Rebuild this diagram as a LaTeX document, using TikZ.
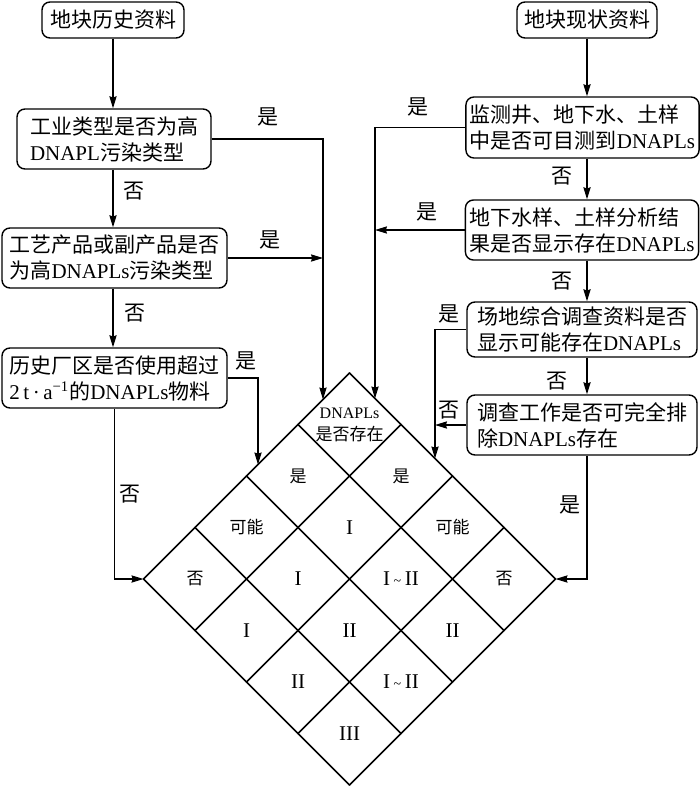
\documentclass[tikz,border=0pt]{standalone}
\usepackage{fontspec}
\setmainfont{Liberation Serif}
\newfontfamily\cjk{Noto Sans CJK SC}
\newfontfamily\latf{Liberation Serif}
\newcommand{\La}[1]{{\latf #1}}
\usetikzlibrary{arrows.meta,calc}
\tikzset{
  box/.style={draw, rounded corners=4pt, line width=0.7pt, align=left, inner sep=2pt,
    font=\cjk\fontsize{10.5pt}{13pt}\selectfont},
  lab/.style={font=\cjk\fontsize{10.5pt}{13pt}\selectfont, inner sep=0pt},
  conn/.style={line width=0.7pt, -{Stealth[length=6pt,width=3.6pt,inset=0.6pt]}},
  grid/.style={line width=0.75pt, line cap=round},
  cell/.style={font=\cjk\fontsize{8.5pt}{11pt}\selectfont, inner sep=0pt, align=center},
  rom/.style={font=\latf\fontsize{10.5pt}{12pt}\selectfont, inner sep=0pt}
}
\begin{document}
\begin{tikzpicture}[x=0.5pt,y=-0.5pt]
\useasboundingbox (0,0) rectangle (700,787);
% left column
\node[box, minimum width=71pt, minimum height=18pt] (b1) at (113,20) {地块历史资料};
\node[box, minimum width=97pt, minimum height=30pt] (b2) at (114,139) {工业类型是否为高\\\La{DNAPL}污染类型};
\node[box, minimum width=112.5pt, minimum height=30pt] (b3) at (114.5,258) {工艺产品或副产品是否\\为高\La{DNAPLs}污染类型};
\node[box, minimum width=112.5pt, minimum height=30pt] (b4) at (114.5,378) {历史厂区是否使用超过\\\La{2\,t\,·\,a\textsuperscript{−1}}的\La{DNAPLs}物料};
% right column
\node[box, minimum width=70pt, minimum height=18pt] (b5) at (587,20) {地块现状资料};
\node[box, minimum width=115.5pt, minimum height=30.5pt] (b6) at (582.5,127.5) {监测井、地下水、土样\\中是否可目测到\La{DNAPLs}};
\node[box, minimum width=115pt, minimum height=30pt] (b7) at (582,230) {地下水样、土样分析结\\果是否显示存在\La{DNAPLs}};
\node[box, minimum width=115pt, minimum height=27.5pt] (b8) at (582,329.5) {场地综合调查资料是否\\显示可能存在\La{DNAPLs}};
\node[box, minimum width=115pt, minimum height=30pt] (b9) at (582,425) {调查工作是否可完全排\\除\La{DNAPLs}存在};
% diamond anchor points
\coordinate (T) at (349.5,373);
\coordinate (L) at (143.5,579);
\coordinate (R) at (555.5,579);
\coordinate (e1) at (323,399.5);
\coordinate (e2) at (258,464.5);
\coordinate (e3) at (375,398.5);
\coordinate (e4) at (435,458.5);
% grid
\begin{scope}[shift={(T)}, x={(25.75pt,-25.75pt)}, y={(-25.75pt,-25.75pt)}]
\foreach \i in {0,...,4} {
  \draw[grid] (\i,0) -- (\i,4);
  \draw[grid] (0,\i) -- (4,\i);
}
\node[cell] (c00) at (0.5,0.5) {{\latf\fontsize{8pt}{11pt}\selectfont DNAPLs}\\是否存在};
\node[cell] (c01) at (0.5,1.5) {是};
\node[cell] (c10) at (1.5,0.5) {是};
\node[cell] (c02) at (0.5,2.5) {可能};
\node[rom] (c11) at (1.5,1.5) {I};
\node[cell] (c20) at (2.5,0.5) {可能};
\node[cell] (c03) at (0.5,3.5) {否};
\node[rom] (c12) at (1.5,2.5) {I};
\node[rom] (c21) at (2.5,1.5) {I\,{\fontsize{7pt}{8pt}\selectfont\textasciitilde}\,II};
\node[cell] (c30) at (3.5,0.5) {否};
\node[rom] (c13) at (1.5,3.5) {I};
\node[rom] (c22) at (2.5,2.5) {II};
\node[rom] (c31) at (3.5,1.5) {II};
\node[rom] (c23) at (2.5,3.5) {II};
\node[rom] (c32) at (3.5,2.5) {I\,{\fontsize{7pt}{8pt}\selectfont\textasciitilde}\,II};
\node[rom] (c33) at (3.5,3.5) {III};
\end{scope}
% left connectors
\draw[conn] (b1.south) -- (b1.south |- b2.north);
\draw[conn] (b2.south -| b1) -- (b3.north -| b1);
\draw[conn] (b3.south -| b1) -- (b4.north -| b1);
\draw[conn] (b2.east) -| (e1);
\draw[conn] (b3.east) -- (b3.east -| e1);
\draw[conn] (b4.east) -| (e2);
\draw[conn] (b4.south) |- (L);
% right connectors
\draw[conn] (b5.south) -- (b5.south |- b6.north);
\draw[conn] (b6.south -| b5) -- (b7.north -| b5);
\draw[conn] (b7.south -| b5) -- (b8.north -| b5);
\draw[conn] (b8.south -| b5) -- (b9.north -| b5);
\draw[conn] (b6.west) -| (e3);
\draw[conn] (b7.west) -- (b7.west -| e3);
\draw[conn] (b8.west) -| (e4);
\draw[conn] (b9.west) -- (b9.west -| e4);
\draw[conn] (b9.south -| b5) |- (R);
% labels
\node[lab] (l1) at (268,117) {是};
\node[lab] (l2) at (134,191) {否};
\node[lab] (l3) at (270,240) {是};
\node[lab] (l4) at (135,313) {否};
\node[lab] (l5) at (246,361) {是};
\node[lab] (l6) at (130,494) {否};
\node[lab] (l7) at (418,107) {是};
\node[lab] (l8) at (562,176) {否};
\node[lab] (l9) at (427,212) {是};
\node[lab] (l10) at (562,281) {否};
\node[lab] (l11) at (449,314) {是};
\node[lab] (l12) at (557,381) {否};
\node[lab] (l13) at (449,410) {否};
\node[lab] (l14) at (570,505) {是};
\end{tikzpicture}
\end{document}
